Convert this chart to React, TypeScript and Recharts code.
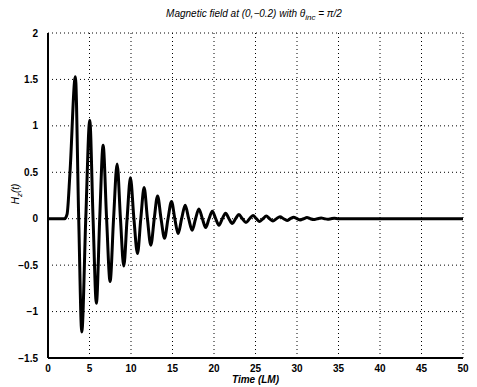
import { LineChart, Line, XAxis, YAxis, CartesianGrid } from "recharts";

// time samples (LM) read at extremes and zero crossings of the trace
const timeLM = [
  0, 2.0, 2.3, 2.65,
  3.3, 3.7, 4.07, 4.55,
  5.03, 5.43, 5.83, 6.23,
  6.64, 7.06, 7.48, 7.9,
  8.33, 8.73, 9.13, 9.53,
  9.93, 10.35, 10.78, 11.18,
  11.58, 11.98, 12.39, 12.8,
  13.2, 13.62, 14.04, 14.46,
  14.88, 15.28, 15.68, 16.1,
  16.53, 16.95, 17.37, 17.78,
  18.18, 18.6, 19.0, 19.4,
  19.8, 20.2, 20.6, 21.0,
  21.4, 21.8, 22.2, 22.6,
  23.0, 23.42, 23.85, 24.28,
  24.7, 25.1, 25.5, 25.9,
  26.3, 26.7, 27.1, 27.52,
  27.95, 28.38, 28.8, 29.2,
  29.6, 30.0, 30.4, 30.8,
  31.2, 31.6, 32.0, 32.45,
  32.9, 33.3, 33.7, 34.1,
  34.5, 35.0, 50,
];

const hz = [
  0, 0, 0.05, 0.5,
  1.53, 0, -1.22, 0,
  1.06, 0, -0.91, 0,
  0.79, 0, -0.675, 0,
  0.59, 0, -0.51, 0,
  0.44, 0, -0.375, 0,
  0.335, 0, -0.285, 0,
  0.245, 0, -0.21, 0,
  0.185, 0, -0.16, 0,
  0.145, 0, -0.125, 0,
  0.105, 0, -0.095, 0,
  0.08, 0, -0.07, 0,
  0.06, 0, -0.052, 0,
  0.045, 0, -0.04, 0,
  0.035, 0, -0.03, 0,
  0.028, 0, -0.024, 0,
  0.022, 0, -0.018, 0,
  0.017, 0, -0.013, 0,
  0.012, 0, -0.009, 0,
  0.008, 0, -0.006, 0,
  0.005, 0, 0,
];

const xTicks = [0, 5, 10, 15, 20, 25, 30, 35, 40, 45, 50];
const yTicks = [-1.5, -1, -0.5, 0, 0.5, 1, 1.5, 2];

const data = timeLM.map((t, i) => ({ t, hz: hz[i] }));

const font = "'Liberation Sans', Arial, Helvetica, sans-serif";

const fmt = (v: number) => String(v).replace("-", "\u2212");

const tickStyle = { fill: "#000", fontSize: 10, fontWeight: 700, fontFamily: font };

export default function App() {
  return (
    <div
      style={{
        position: "absolute",
        left: 0,
        top: 0,
        width: 477,
        height: 387,
        background: "#fff",
        fontFamily: font,
      }}
    >
      <LineChart
        width={477}
        height={387}
        data={data}
        margin={{ top: 33, right: 14, bottom: 0, left: 0 }}
      >
        <CartesianGrid
          stroke="#000"
          strokeDasharray="1 3"
          strokeWidth={1}
          horizontalValues={yTicks}
          verticalValues={xTicks}
        />
        <XAxis
          dataKey="t"
          type="number"
          domain={[0, 50]}
          ticks={xTicks}
          height={29}
          tickLine={false}
          tickMargin={1}
          axisLine={{ stroke: "#000", strokeWidth: 2 }}
          tick={tickStyle}
        />
        <YAxis
          type="number"
          domain={[-1.5, 2]}
          ticks={yTicks}
          width={48}
          tickLine={false}
          tickMargin={4}
          tickFormatter={fmt}
          axisLine={{ stroke: "#000", strokeWidth: 2 }}
          tick={tickStyle}
        />
        <Line
          dataKey="hz"
          type="monotone"
          stroke="#000"
          strokeWidth={3}
          dot={false}
          isAnimationActive={false}
        />
      </LineChart>
      <div
        style={{
          position: "absolute",
          left: 0,
          width: 508,
          top: 8,
          textAlign: "center",
          fontSize: 10,
          fontStyle: "italic",
          lineHeight: "12px",
        }}
      >
        Magnetic field at (0,{"\u2212"}0.2) with θ
        <sub style={{ fontSize: 8, lineHeight: 0 }}>inc</sub> = π/2
      </div>
      <div
        style={{
          position: "absolute",
          left: 0,
          width: 511,
          top: 374,
          textAlign: "center",
          fontSize: 10,
          fontWeight: 700,
          fontStyle: "italic",
          lineHeight: "12px",
        }}
      >
        Time (LM)
      </div>
      <div
        style={{
          position: "absolute",
          left: 16,
          top: 194,
          transform: "translate(-50%, -50%) rotate(-90deg)",
          fontSize: 10,
          fontStyle: "italic",
          whiteSpace: "nowrap",
          lineHeight: "12px",
        }}
      >
        H<sub style={{ fontSize: 8, lineHeight: 0 }}>z</sub>(t)
      </div>
    </div>
  );
}
